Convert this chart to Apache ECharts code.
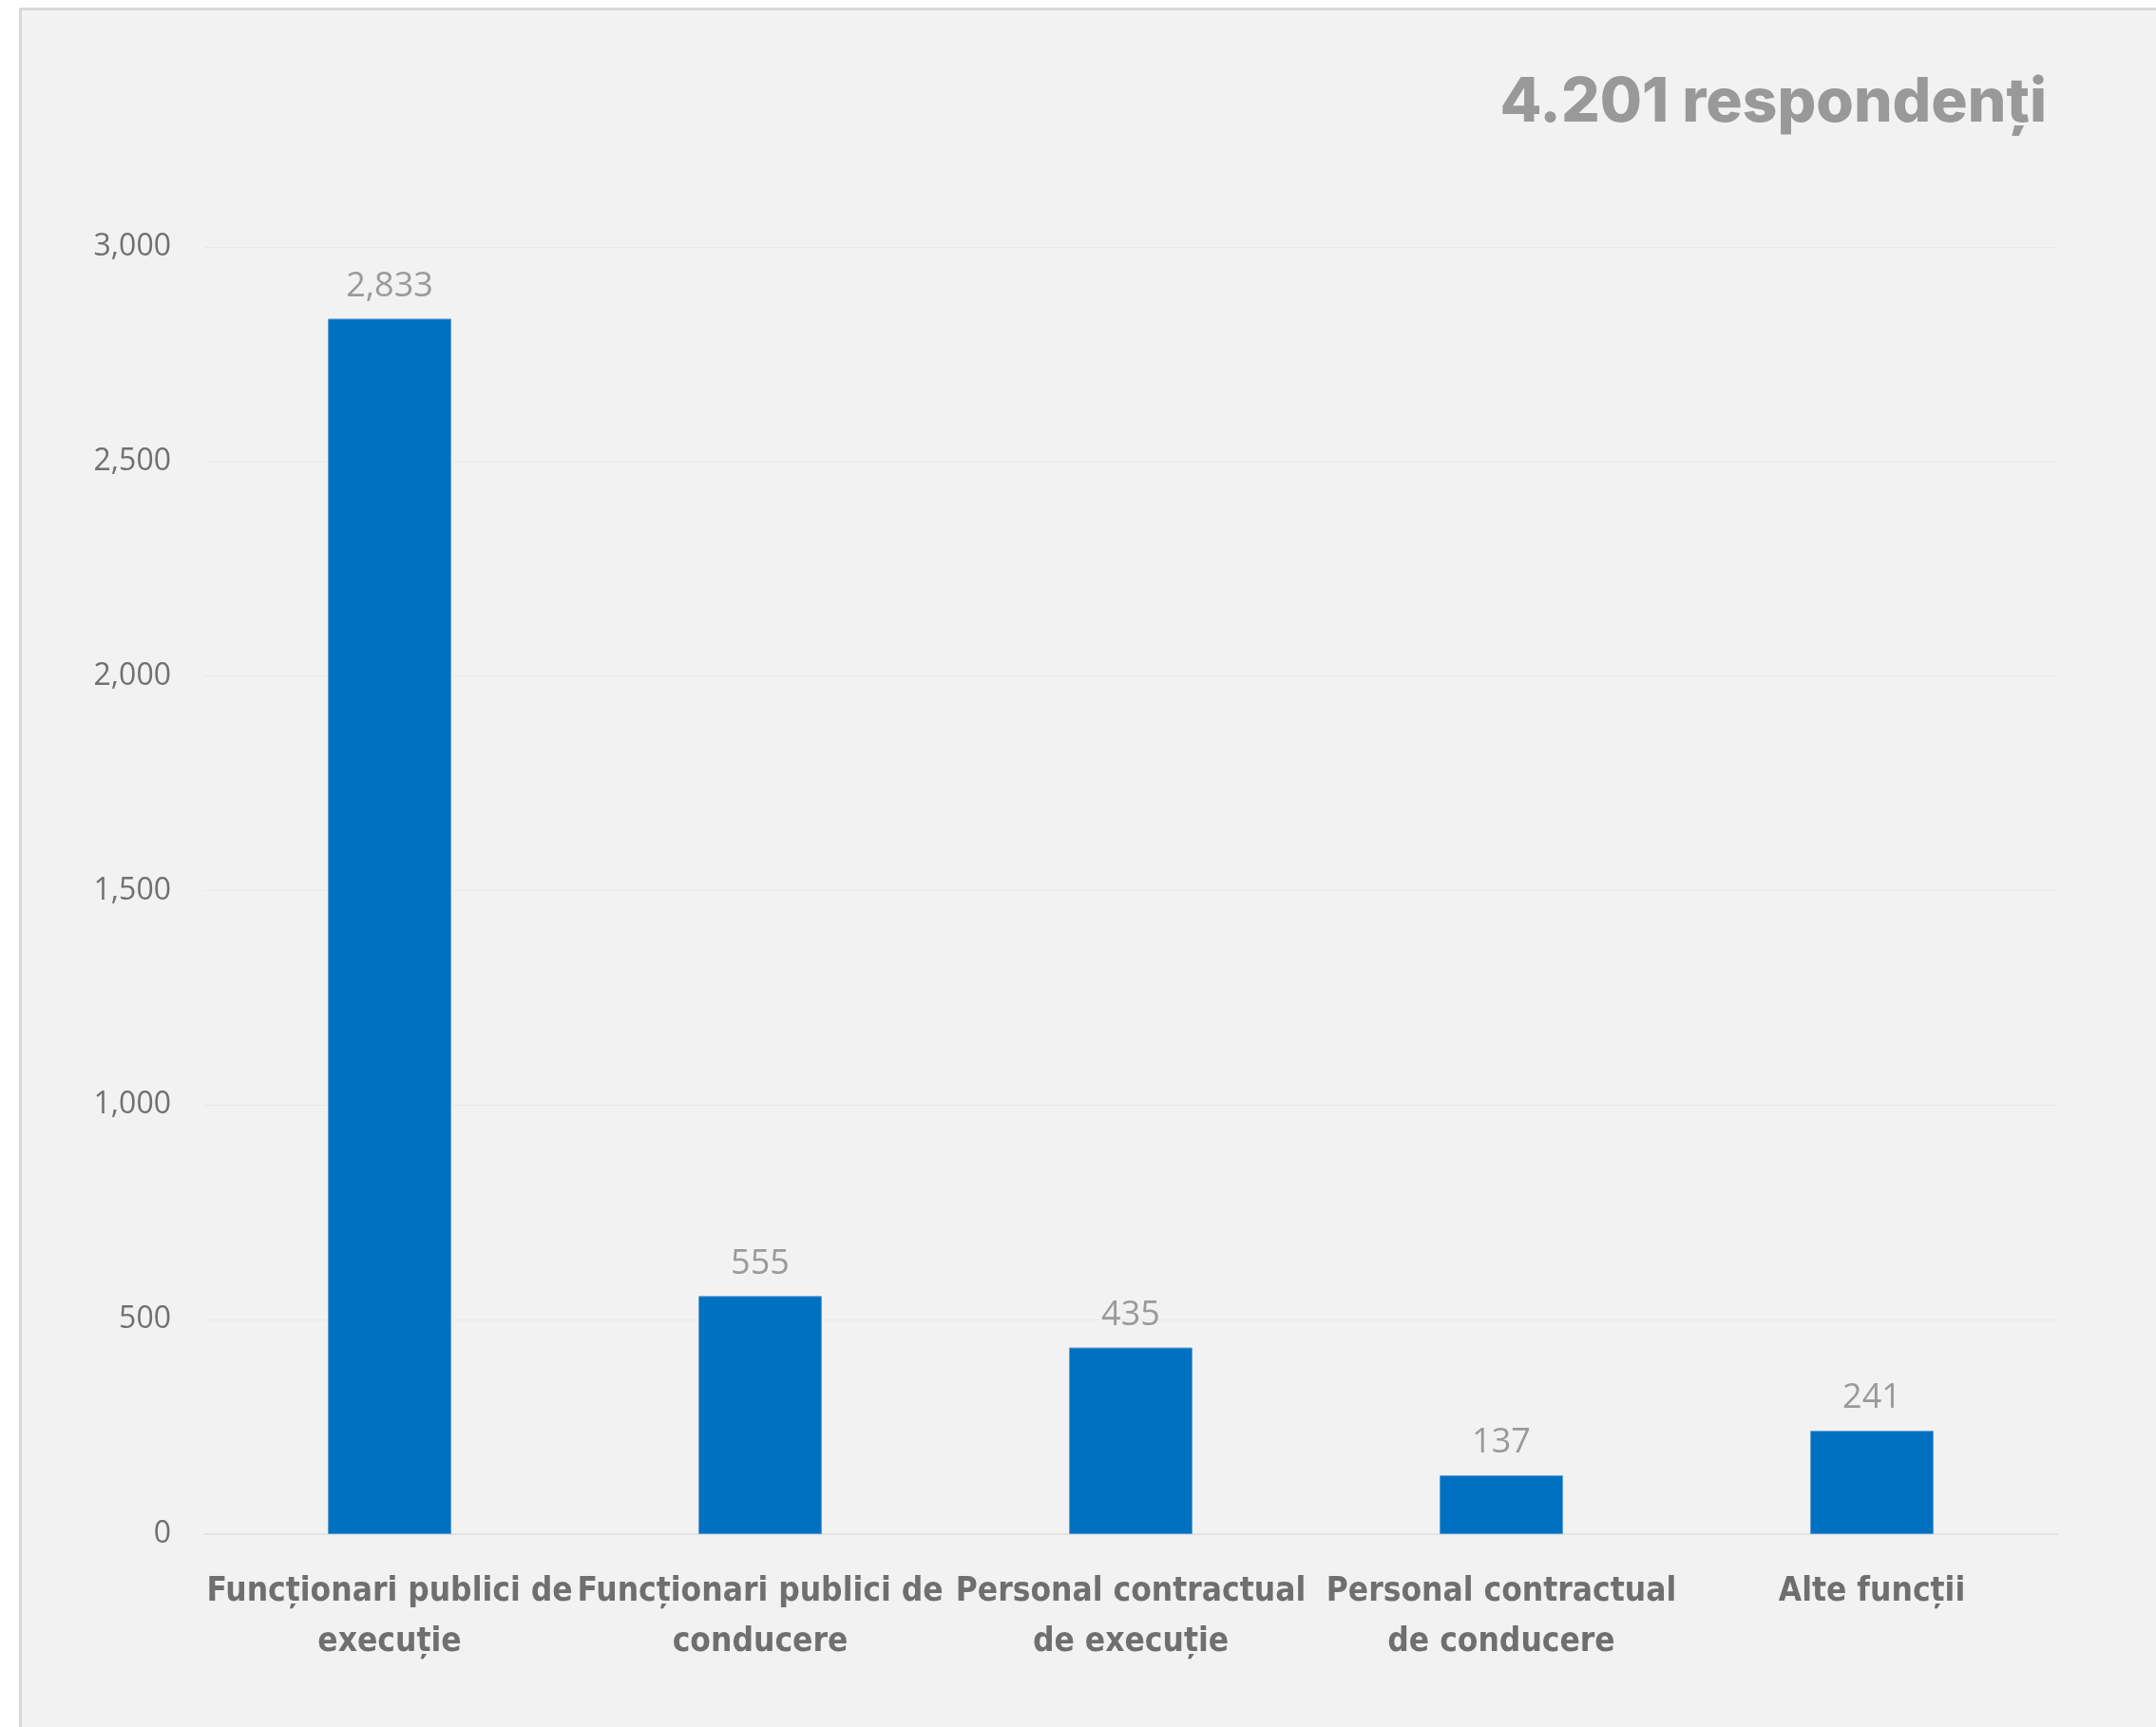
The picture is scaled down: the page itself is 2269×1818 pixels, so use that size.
<!DOCTYPE html>
<html>
<head>
<meta charset="utf-8">
<script src="https://cdn.jsdelivr.net/npm/echarts@6/dist/echarts.min.js"></script>
<style>
html,body{margin:0;padding:0;background:#ffffff;}
#chart{width:2269px;height:1818px;}
</style>
</head>
<body>
<div id="chart"></div>
<script>
const categories = [
  "Funcționari publici de\nexecuție",
  "Funcționari publici de\nconducere",
  "Personal contractual\nde execuție",
  "Personal contractual\nde conducere",
  "Alte funcții"
];
const values = [2833, 555, 435, 137, 241];
const titleText = "4.201 respondenți";
const yMin = 0, yMax = 3000, yInterval = 500;

const chart = echarts.init(document.getElementById('chart'), null, {renderer: 'canvas'});
chart.setOption({
  backgroundColor: '#ffffff',
  animation: false,
  graphic: [{
    type: 'rect',
    z: -10,
    silent: true,
    shape: {x: 21.5, y: 9.5, width: 2400, height: 2000},
    style: {fill: '#f2f2f2', stroke: '#d9d9d9', lineWidth: 3}
  }],
  title: {
    text: titleText,
    right: 110,
    top: 72,
    textStyle: {
      fontFamily: 'Inter, "Open Sans", sans-serif',
      fontWeight: 800,
      fontSize: 64,
      color: '#999999'
    }
  },
  grid: {left: 215, right: 104, top: 260, bottom: 203, containLabel: false},
  xAxis: {
    type: 'category',
    data: categories,
    axisTick: {show: false},
    axisLine: {show: true, lineStyle: {color: '#e3e3e3', width: 2}},
    axisLabel: {
      interval: 0,
      margin: 34,
      fontFamily: '"Liberation Sans Narrow", "DejaVu Sans Condensed", "Open Sans", sans-serif',
      fontWeight: 'bold',
      fontSize: 35,
      lineHeight: 53,
      color: '#6f6f6f'
    }
  },
  yAxis: {
    type: 'value',
    min: yMin,
    max: yMax,
    interval: yInterval,
    axisLine: {show: false},
    axisTick: {show: false},
    splitLine: {lineStyle: {color: '#e9e9e9', width: 1}},
    axisLabel: {
      margin: 35,
      fontFamily: '"Open Sans", sans-serif',
      fontSize: 32,
      color: '#707070',
      formatter: v => v.toLocaleString('en-US')
    }
  },
  series: [{
    type: 'bar',
    data: values,
    barWidth: '33.3%',
    itemStyle: {color: '#0070c0', borderColor: '#5b9bd5', borderWidth: 1},
    label: {
      show: true,
      position: 'top',
      distance: 16,
      fontFamily: '"Open Sans", sans-serif',
      fontSize: 36,
      color: '#9a9a9a',
      formatter: p => p.value.toLocaleString('en-US')
    }
  }]
});
</script>
</body>
</html>
